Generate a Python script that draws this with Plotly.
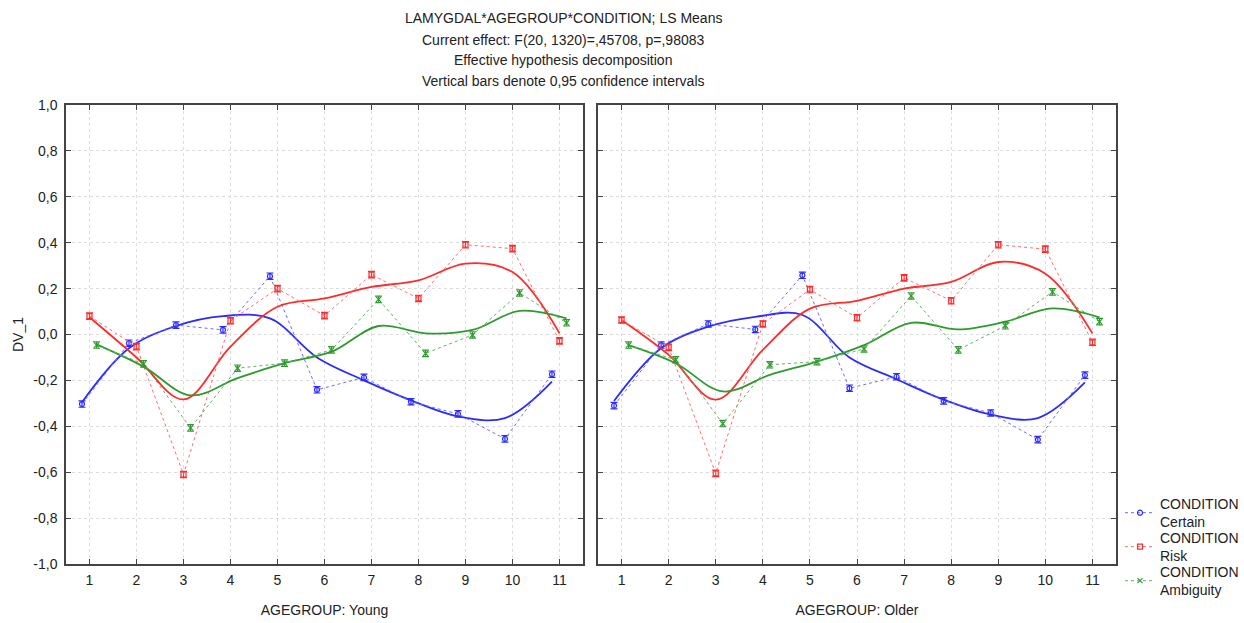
import plotly.graph_objects as go

ages = [1, 2, 3, 4, 5, 6, 7, 8, 9, 10, 11]
tick_labels = [str(a) for a in ages]
y_ticks = [-1.0, -0.8, -0.6, -0.4, -0.2, 0.0, 0.2, 0.4, 0.6, 0.8, 1.0]
y_tick_labels = ["-1,0", "-0,8", "-0,6", "-0,4", "-0,2", "0,0", "0,2", "0,4", "0,6", "0,8", "1,0"]

# Young panel: LS means
young_certain = [-0.303, -0.038, 0.041, 0.020, 0.254, -0.241, -0.187, -0.293, -0.346, -0.455, -0.173]
young_risk = [0.080, -0.053, -0.610, 0.060, 0.200, 0.082, 0.261, 0.157, 0.391, 0.374, -0.028]
young_ambiguity = [-0.046, -0.128, -0.407, -0.147, -0.125, -0.067, 0.153, -0.082, -0.002, 0.181, 0.051]
# Older panel: LS means
older_certain = [-0.310, -0.046, 0.046, 0.022, 0.258, -0.234, -0.184, -0.289, -0.342, -0.458, -0.177]
older_risk = [0.063, -0.056, -0.605, 0.046, 0.196, 0.073, 0.247, 0.147, 0.391, 0.372, -0.034]
older_ambiguity = [-0.046, -0.110, -0.388, -0.132, -0.118, -0.063, 0.168, -0.067, 0.038, 0.186, 0.056]

# Smoothed fit curves (value at each group position)
young_certain_fit = [-0.295, -0.060, 0.037, 0.080, 0.070, -0.100, -0.200, -0.287, -0.357, -0.364, -0.205]
young_risk_fit = [0.075, -0.100, -0.283, -0.053, 0.121, 0.157, 0.207, 0.236, 0.309, 0.272, 0.005]
young_ambiguity_fit = [-0.043, -0.140, -0.265, -0.190, -0.125, -0.075, 0.037, 0.005, 0.020, 0.103, 0.070]
older_certain_fit = [-0.290, -0.060, 0.034, 0.077, 0.085, -0.100, -0.195, -0.284, -0.349, -0.364, -0.209]
older_risk_fit = [0.063, -0.089, -0.284, -0.067, 0.113, 0.147, 0.200, 0.229, 0.316, 0.265, 0.005]
older_ambiguity_fit = [-0.046, -0.125, -0.248, -0.176, -0.118, -0.046, 0.051, 0.022, 0.056, 0.114, 0.075]

ci_half = 0.014

conditions = ["Certain", "Risk", "Ambiguity"]
offsets = [-0.16, 0.0, 0.15]
colors = ["#2b2bff", "#ff2b2b", "#2e9a2e"]
light_colors = ["#6b6bff", "#ff6b6b", "#5fb35f"]
symbols = ["circle-open", "square-open", "x-thin-open"]
legend_ids = ["legend", "legend2", "legend3"]

panels = [
    ("x", "y", [young_certain, young_risk, young_ambiguity],
     [young_certain_fit, young_risk_fit, young_ambiguity_fit]),
    ("x2", "y2", [older_certain, older_risk, older_ambiguity],
     [older_certain_fit, older_risk_fit, older_ambiguity_fit]),
]

FONT = "Liberation Sans, Arial"
TXT = "#222222"

fig = go.Figure()

for pi, (xa, ya, means, fits) in enumerate(panels):
    for ci in range(3):
        xs = [a + offsets[ci] for a in ages]
        fig.add_trace(go.Scatter(
            x=xs, y=fits[ci], xaxis=xa, yaxis=ya, mode="lines",
            line=dict(color=colors[ci], width=1.8, shape="spline", smoothing=1.0),
            showlegend=False, hoverinfo="skip"))
        fig.add_trace(go.Scatter(
            x=xs, y=means[ci], xaxis=xa, yaxis=ya, mode="lines+markers",
            line=dict(color=light_colors[ci], width=1, dash="dot"),
            marker=dict(symbol=symbols[ci], size=5, color=colors[ci],
                        line=dict(color=colors[ci], width=1.2)),
            error_y=dict(type="constant", value=ci_half, color=colors[ci],
                         thickness=1.2, width=3.5),
            name="CONDITION<br>" + conditions[ci],
            legendgroup=conditions[ci],
            legend=legend_ids[ci],
            showlegend=(pi == 0)))

W, H = 1244, 623
def px_x(p):
    return p / W
def px_y(p):
    return 1 - p / H

axis_common = dict(
    range=[0.5, 11.5], tickvals=ages, ticktext=tick_labels,
    showgrid=True, gridcolor="#dddddd", griddash="dot", gridwidth=1,
    showline=True, linecolor="#444444", linewidth=1.5, mirror="ticks",
    ticks="inside", ticklen=5, tickcolor="#444444",
    tickfont=dict(family=FONT, size=14, color=TXT),
    ticklabelstandoff=2, automargin=False,
    zeroline=False, title_font=dict(family=FONT, size=14, color=TXT),
    title_standoff=19,
)
yaxis_common = dict(
    range=[-1.0, 1.0], tickvals=y_ticks,
    showgrid=True, gridcolor="#dddddd", griddash="dot", gridwidth=1,
    showline=True, linecolor="#444444", linewidth=1.5, mirror="ticks",
    ticks="inside", ticklen=5, tickcolor="#444444",
    tickfont=dict(family=FONT, size=14, color=TXT),
    ticklabelstandoff=4, automargin=False,
    zeroline=False,
    domain=[px_y(564), px_y(105)],
)

def legend_at(top_px):
    return dict(x=px_x(1120), y=px_y(top_px), xanchor="left", yanchor="top",
                bgcolor="rgba(0,0,0,0)", font=dict(family=FONT, size=14, color=TXT),
                tracegroupgap=0, itemwidth=30)

fig.update_layout(
    width=W, height=H,
    margin=dict(l=0, r=0, t=0, b=0, autoexpand=False),
    paper_bgcolor="white", plot_bgcolor="white",
    font=dict(family=FONT, size=14, color=TXT),
    xaxis=dict(axis_common, domain=[px_x(66), px_x(583)], anchor="y",
               title=dict(text="AGEGROUP: Young")),
    xaxis2=dict(axis_common, domain=[px_x(598), px_x(1116)], anchor="y2",
                title=dict(text="AGEGROUP: Older")),
    yaxis=dict(yaxis_common, anchor="x", ticktext=y_tick_labels,
               title=dict(text="DV_1", font=dict(family=FONT, size=14, color=TXT), standoff=6)),
    yaxis2=dict(yaxis_common, anchor="x2", ticktext=y_tick_labels, showticklabels=False),
    legend=legend_at(488),
    legend2=legend_at(522),
    legend3=legend_at(556),
    showlegend=True,
)

title_lines = [
    "LAMYGDAL*AGEGROUP*CONDITION; LS Means",
    "Current effect: F(20, 1320)=,45708, p=,98083",
    "Effective hypothesis decomposition",
    "Vertical bars denote 0,95 confidence intervals",
]
title_y = [18, 40, 60, 81]
for t, yy in zip(title_lines, title_y):
    fig.add_annotation(text=t, x=px_x(563), y=px_y(yy), xref="paper", yref="paper",
                       showarrow=False, xanchor="center", yanchor="middle",
                       font=dict(family=FONT, size=14, color=TXT))

fig.write_html("out.html")
